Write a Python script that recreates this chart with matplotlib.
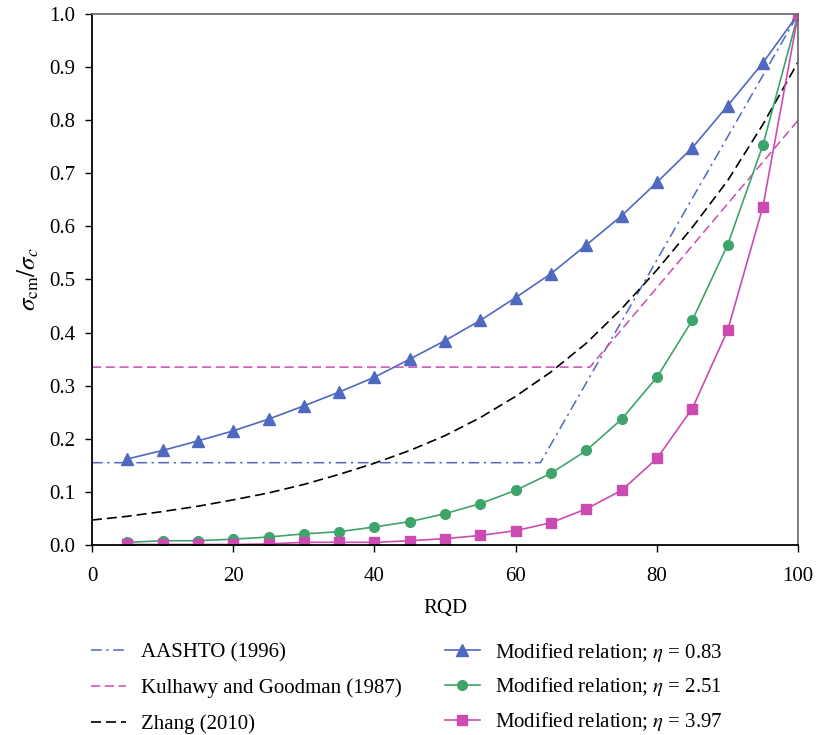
import numpy as np
import matplotlib
matplotlib.use('Agg')
import matplotlib.pyplot as plt

plt.rcParams['font.family'] = ['Liberation Serif', 'DejaVu Serif']
plt.rcParams['mathtext.fontset'] = 'stix'
plt.rcParams['font.size'] = 15

# RQD values for the modified relations
rqd = [5, 10, 15, 20, 25, 30, 35, 40, 45, 50, 55, 60, 65, 70, 75, 80, 85, 90, 95, 100]
eta_083 = [0.162, 0.178, 0.196, 0.215, 0.237, 0.262, 0.288, 0.316, 0.350, 0.385,
           0.423, 0.466, 0.511, 0.565, 0.620, 0.683, 0.748, 0.827, 0.908, 1.0]
eta_251 = [0.005, 0.008, 0.008, 0.011, 0.015, 0.021, 0.025, 0.034, 0.044, 0.059,
           0.078, 0.103, 0.135, 0.178, 0.237, 0.316, 0.423, 0.565, 0.753, 1.0]
eta_397 = [0.001, 0.001, 0.001, 0.001, 0.002, 0.005, 0.005, 0.005, 0.008, 0.012,
           0.018, 0.027, 0.042, 0.068, 0.103, 0.163, 0.257, 0.404, 0.637, 1.0]

# empirical relations
aashto_x = [0, 63.5, 100]
aashto_y = [0.155, 0.155, 1.0]
kulhawy_x = [0, 70.5, 100]
kulhawy_y = [0.335, 0.335, 0.80]
zhang_x = [0, 5, 10, 15, 20, 25, 30, 35, 40, 45, 50,
           55, 60, 65, 70, 75, 80, 85, 90, 95, 100]
zhang_y = [0.047, 0.054, 0.063, 0.073, 0.085, 0.098, 0.114, 0.133, 0.154, 0.178, 0.206,
           0.240, 0.280, 0.326, 0.380, 0.445, 0.518, 0.598, 0.686, 0.792, 0.910]

blue = '#5068C0'
green = '#3FA46B'
pink = '#CC4BB0'

fig = plt.figure(figsize=(8.16, 7.35), dpi=100)
ax = fig.add_axes([0.1127, 0.2585, 0.8655, 0.7225])

l1, = ax.plot(aashto_x, aashto_y, color=blue, lw=1.1, linestyle=(0, (7, 3, 1.5, 3)),
              label='AASHTO (1996)')
l2, = ax.plot(kulhawy_x, kulhawy_y, color=pink, lw=1.1, linestyle=(0, (6, 3)),
              label='Kulhawy and Goodman (1987)')
l3, = ax.plot(zhang_x, zhang_y, color='black', lw=1.2, linestyle=(0, (6, 3)),
              label='Zhang (2010)')
l4, = ax.plot(rqd, eta_083, color=blue, lw=1.2, marker='^', ms=8,
              label=r'Modified relation; $\eta$ = 0.83')
l5, = ax.plot(rqd, eta_251, color=green, lw=1.2, marker='o', ms=7,
              label=r'Modified relation; $\eta$ = 2.51')
l6, = ax.plot(rqd, eta_397, color=pink, lw=1.2, marker='s', ms=7,
              label=r'Modified relation; $\eta$ = 3.97')

ax.set_xlim(0, 100)
ax.set_ylim(0, 1.0)
ax.set_xticks(np.arange(0, 101, 20))
ax.set_yticks(np.arange(0, 1.01, 0.1))
ax.set_yticklabels(['%.1f' % v for v in np.arange(0, 1.01, 0.1)])
ax.tick_params(direction='out', length=5, width=1, pad=7)
ax.tick_params(axis='x', pad=11)
ax.set_xlabel('RQD', labelpad=9)
ax.set_ylabel(r'$\sigma_{\rm cm}/\sigma_c$', fontsize=18, labelpad=6)

for side in ['left', 'bottom']:
    ax.spines[side].set_color('black')
    ax.spines[side].set_linewidth(1.3)
for side in ['top', 'right']:
    ax.spines[side].set_color('#666666')
    ax.spines[side].set_linewidth(1.2)

# two legend columns kept separate so each row lines up
leg_kw = dict(frameon=False, loc='upper left', borderpad=0, borderaxespad=0,
              handlelength=1.7, handletextpad=0.7, fontsize=15)
fig.legend(handles=[l1, l2, l3], bbox_to_anchor=(0.111, 0.125),
           labelspacing=0.76, **leg_kw)
fig.legend(handles=[l4, l5, l6], bbox_to_anchor=(0.545, 0.1285),
           labelspacing=0.57, **leg_kw)

fig.savefig('out.png', dpi=100)
